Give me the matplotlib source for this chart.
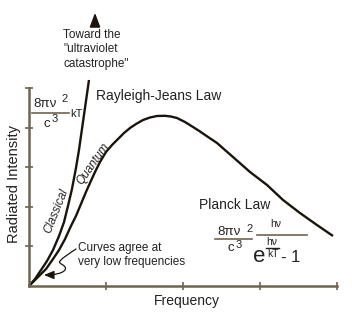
import matplotlib
matplotlib.use("Agg")
import matplotlib.pyplot as plt
from matplotlib.patches import FancyArrowPatch
from matplotlib.path import Path
from matplotlib.lines import Line2D

plt.rcParams['font.family'] = ['Liberation Sans', 'DejaVu Sans']

# curves (frequency and intensity in tick units)
classical_freq = [0, 0.078, 0.156, 0.234, 0.312, 0.390, 0.455, 0.506, 0.558,
                  0.610, 0.649, 0.714, 0.779]
classical_int = [0, 0.177, 0.404, 0.631, 0.909, 1.263, 1.616, 2.020, 2.449,
                 2.980, 3.434, 4.318, 5.202]

quantum_freq = [0, 0.104, 0.221, 0.312, 0.390, 0.468, 0.545, 0.610, 0.675,
                0.740, 0.792, 0.857, 0.922, 1.000, 1.078, 1.156, 1.234, 1.312,
                1.390, 1.481, 1.571, 1.662, 1.766, 1.844, 1.922, 2.026, 2.130,
                2.221, 2.325, 2.442, 2.545, 2.649, 2.870, 3.091, 3.299, 3.519,
                3.740, 3.948]
quantum_int = [0, 0.202, 0.429, 0.682, 0.909, 1.187, 1.515, 1.768, 2.071,
               2.374, 2.601, 2.879, 3.131, 3.384, 3.561, 3.712, 3.864, 3.990,
               4.091, 4.192, 4.255, 4.293, 4.298, 4.280, 4.242, 4.141, 4.015,
               3.902, 3.763, 3.611, 3.434, 3.258, 2.879, 2.551, 2.172, 1.843,
               1.540, 1.263]

x_ticks = [1, 2, 3, 4]
y_ticks = [1, 2, 3, 4, 5]

axis_col = '#6e6450'
ink = '#1a140c'
txt = '#222222'

W, H = 352, 317
fig = plt.figure(figsize=(W / 100, H / 100), dpi=100)
fig.patch.set_facecolor('white')


def P(x, y):
    # pixel position in the picture -> figure fraction
    return (x / W, 1 - y / H)


def hbar(x0, x1, y, col=axis_col, lw=1.2):
    fig.add_artist(Line2D([x0 / W, x1 / W], [1 - y / H, 1 - y / H], color=col, lw=lw))


ax = fig.add_axes([29 / W, 31 / H, 308 / W, 198 / H])
ax.set_xlim(0, 4)
ax.set_ylim(0, 5)
ax.patch.set_alpha(0)
for s in ['top', 'right']:
    ax.spines[s].set_visible(False)
for s in ['left', 'bottom']:
    ax.spines[s].set_color(axis_col)
    ax.spines[s].set_linewidth(1.8)
ax.set_xticks(x_ticks)
ax.set_yticks(y_ticks)
ax.set_xticklabels([])
ax.set_yticklabels([])
ax.tick_params(direction='inout', length=6, width=1.2, color=axis_col)

ax.plot(classical_freq, classical_int, color=ink, lw=1.7, clip_on=False,
        solid_joinstyle='round', solid_capstyle='butt')
ax.plot(quantum_freq, quantum_int, color=ink, lw=1.7, clip_on=False,
        solid_joinstyle='round', solid_capstyle='butt')

# labels
fig.text(*P(187, 301), 'Frequency', ha='center', va='center', fontsize=10, color=txt)
fig.text(*P(14, 184), 'Radiated Intensity', ha='center', va='center', fontsize=10.5,
         rotation=90, color=txt)
fig.text(*P(96, 96), 'Rayleigh-Jeans Law', ha='left', va='center', fontsize=10, color=txt)
fig.text(*P(199, 205), 'Planck Law', ha='left', va='center', fontsize=10, color=txt)
fig.text(*P(63, 29), 'Toward the\n"ultraviolet\ncatastrophe"', ha='left', va='top',
         fontsize=8.5, linespacing=1.25, color=txt)
fig.text(*P(56, 211), 'Classical', ha='center', va='center', fontsize=8.5,
         style='italic', rotation=68, color=txt)
fig.text(*P(93, 164), 'Quantum', ha='center', va='center', fontsize=8.5,
         style='italic', rotation=55, color=txt)
fig.text(*P(78, 255), 'Curves agree at\nvery low frequencies', ha='left', va='center',
         fontsize=8.5, linespacing=1.15, color=txt)

# Rayleigh-Jeans formula
fig.text(*P(33, 104), '8\u03c0\u03bd', ha='left', va='center', fontsize=9.5, color=txt)
fig.text(*P(61, 99), '2', ha='left', va='center', fontsize=8, color=txt)
hbar(32, 69, 113)
fig.text(*P(43, 124), 'c', ha='left', va='center', fontsize=9.5, color=txt)
fig.text(*P(52, 119), '3', ha='left', va='center', fontsize=8, color=txt)
fig.text(*P(70, 114), 'kT', ha='left', va='center', fontsize=8, color=txt)

# Planck formula
fig.text(*P(217, 232), '8\u03c0\u03bd', ha='left', va='center', fontsize=9.5, color=txt)
fig.text(*P(246, 229), '2', ha='left', va='center', fontsize=8, color=txt)
hbar(215, 252, 239)
fig.text(*P(227, 248), 'c', ha='left', va='center', fontsize=9.5, color=txt)
fig.text(*P(236, 245), '3', ha='left', va='center', fontsize=8, color=txt)
fig.text(*P(276, 224), 'h\u03bd', ha='center', va='center', fontsize=7.5, color=txt)
hbar(257, 307, 235)
fig.text(*P(272, 242), 'h\u03bd', ha='center', va='center', fontsize=7.5, color=txt)
hbar(266, 279, 248, col=txt, lw=1.0)
fig.text(*P(272.5, 254), 'kT', ha='center', va='center', fontsize=7.5, color=txt)
fig.text(*P(253, 257), 'e', ha='left', va='center', fontsize=16, color=txt)
fig.text(*P(281, 258), '- 1', ha='left', va='center', fontsize=12, color=txt)

# arrow toward the ultraviolet catastrophe
fig.add_artist(FancyArrowPatch(P(95, 27), P(95, 10), transform=fig.transFigure,
                               arrowstyle='-|>,head_length=0.85,head_width=0.32',
                               mutation_scale=10, color=ink, lw=1.2))

# squiggle arrow from the note to the origin
verts = [P(76, 249), P(70, 253), P(63, 258), P(60, 261),
         P(57, 264), P(68, 265), P(65, 270),
         P(62, 274), P(52, 275), P(44, 275)]
codes = [Path.MOVETO, Path.LINETO, Path.LINETO, Path.LINETO,
         Path.CURVE4, Path.CURVE4, Path.CURVE4,
         Path.CURVE4, Path.CURVE4, Path.CURVE4]
fig.add_artist(FancyArrowPatch(path=Path(verts, codes), transform=fig.transFigure,
                               arrowstyle='-|>,head_length=0.6,head_width=0.25',
                               mutation_scale=10, color=ink, lw=0.9))

fig.savefig('out.png', dpi=100)
